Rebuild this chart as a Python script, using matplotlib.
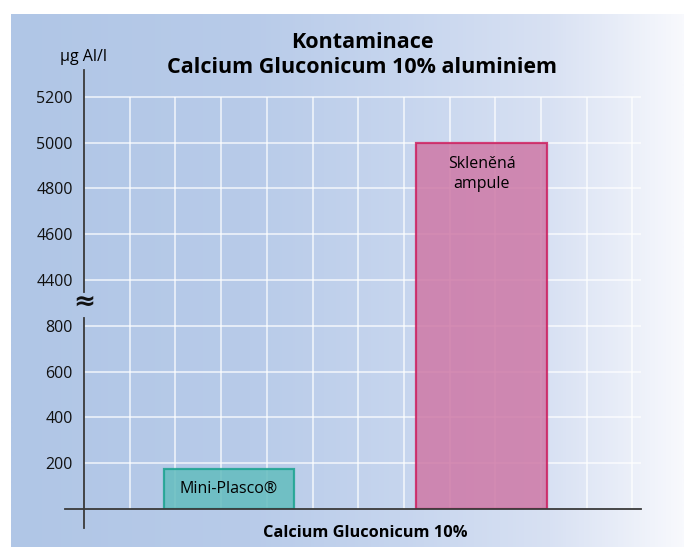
import numpy as np
import matplotlib
matplotlib.use("Agg")
import matplotlib.pyplot as plt
from matplotlib.colors import LinearSegmentedColormap
from matplotlib.ticker import FixedLocator, FixedFormatter

# ---- data ----
categories = ["Mini-Plasco®", "Skleněná\nampule"]
values = [175, 5000]
ytick_values = [200, 400, 600, 800, 4400, 4600, 4800, 5000, 5200]
ytick_labels = ["200", "400", "600", "800", "4400", "4600", "4800", "5000", "5200"]
title = "Kontaminace\nCalcium Gluconicum 10% aluminiem"
xlabel = "Calcium Gluconicum 10%"
ylabel = "µg Al/l"

plt.rcParams['font.family'] = ['Open Sans', 'DejaVu Sans']

W, H = 684, 547
fig = plt.figure(figsize=(W / 100, H / 100), dpi=100)

# background gradient panel
bg = fig.add_axes([0, 0, 1, 1])
bg.set_xlim(0, W)
bg.set_ylim(H, 0)
bg.axis('off')
stops = [(11, (176, 198, 230)), (250, (184, 203, 233)), (400, (198, 213, 238)),
         (550, (216, 225, 243)), (620, (232, 237, 248)), (684, (248, 249, 253))]
cmap = LinearSegmentedColormap.from_list(
    "g", [((x - 11) / (684 - 11), tuple(c / 255 for c in col)) for x, col in stops])
grad = np.linspace(0, 1, 512)[None, :]
bg.imshow(grad, cmap=cmap, extent=[11, W, H, 14], aspect='auto', zorder=0)

# main axes
left, right, top, bottom = 84, 641, 70, 509
ax = fig.add_axes([left / W, 1 - bottom / H, (right - left) / W, (bottom - top) / H])
ax.patch.set_alpha(0)

def fwd(v):
    v = np.asarray(v, dtype=float)
    return np.where(v <= 850, v,
                    np.where(v >= 4350, v - 3400, 850 + (v - 850) * 100 / 3500))

def inv(d):
    d = np.asarray(d, dtype=float)
    return np.where(d <= 850, d,
                    np.where(d >= 950, d + 3400, 850 + (d - 850) * 3500 / 100))

ax.set_yscale('function', functions=(fwd, inv))
ymax = inv((bottom - top) / 45.8 * 200)
ax.set_ylim(0, float(ymax))
xmax = (right - left) / 45.7
ax.set_xlim(0, xmax)

# grid
grid_x = np.arange(1, 13)
ax.vlines(grid_x, 0, ytick_values[-1], colors='white', lw=1.2, alpha=0.75, zorder=1)
ax.hlines(ytick_values, 0, xmax, colors='white', lw=1.2, alpha=0.75, zorder=1)

# bars
positions = [3.17, 8.7]
faces = [(99 / 255, 189 / 255, 190 / 255), (206 / 255, 120 / 255, 166 / 255)]
edges = ['#1aa38f', '#cc1f5f']
bars = ax.bar(positions, values, width=2.86, color=faces, edgecolor=edges,
              linewidth=1.6, alpha=0.85, zorder=2)
ax.text(positions[0], 88, categories[0], ha='center', va='center', fontsize=11.5, zorder=4)
ax.text(positions[1], 4862, categories[1], ha='center', va='center', fontsize=11.5,
        linespacing=1.3, zorder=4)

# axes styling
for s in ax.spines.values():
    s.set_visible(False)
ax.yaxis.set_major_locator(FixedLocator(ytick_values))
ax.yaxis.set_major_formatter(FixedFormatter(ytick_labels))
ax.yaxis.set_minor_locator(FixedLocator([]))
ax.tick_params(axis='y', length=0, pad=8, labelsize=11.5, colors='#111111')
ax.set_xticks([])

# axis lines with break
lk = dict(transform=ax.transAxes, color='#3a3a3a', lw=1.3, clip_on=False, zorder=5)
ax.plot([0, 0], [(bottom - 528) / (bottom - top), (bottom - 318) / (bottom - top)], **lk)
ax.plot([0, 0], [(bottom - 292) / (bottom - top), 1.0], **lk)
ax.plot([(65 - left) / (right - left), 1.0], [0, 0], **lk)
ax.text(0, (bottom - 302) / (bottom - top), "≈", transform=ax.transAxes, ha='center',
        va='center', fontsize=19, fontweight='bold', family='DejaVu Sans', color='#111111')

# labels
fig.text(83 / W, 1 - 57 / H, ylabel, ha='center', va='center', fontsize=11.5)
fig.text(362 / W, 1 - 55 / H, title, ha='center', va='center', fontsize=15.5,
         fontweight='bold', linespacing=1.2)
fig.text(365 / W, 1 - 533 / H, xlabel, ha='center', va='center', fontsize=11.8,
         fontweight='bold')

fig.savefig("out.png", dpi=100)
